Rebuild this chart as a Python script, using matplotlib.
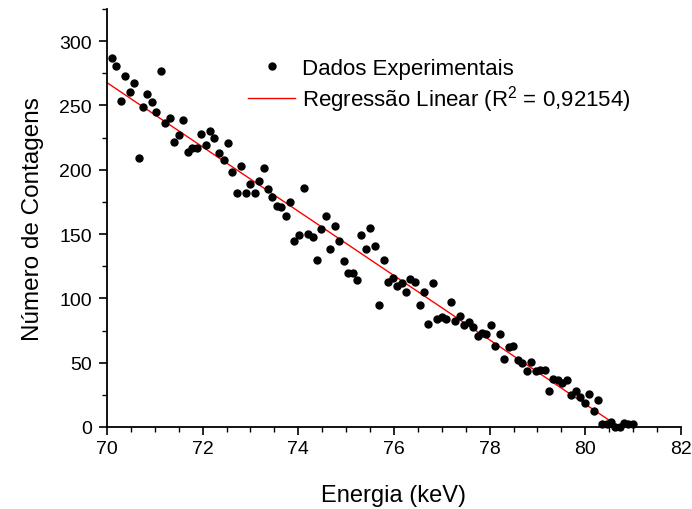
import numpy as np
import matplotlib
matplotlib.use("Agg")
import matplotlib.pyplot as plt
from matplotlib.ticker import MultipleLocator

plt.rcParams['font.family'] = ['Liberation Sans', 'DejaVu Sans']
plt.rcParams['mathtext.fontset'] = 'custom'
plt.rcParams['mathtext.rm'] = 'Liberation Sans'
plt.rcParams['mathtext.it'] = 'Liberation Sans:italic'

energia = [
    70.098, 70.188, 70.286, 70.376, 70.475, 70.565, 70.663, 70.753, 70.843, 70.935,
    71.031, 71.123, 71.219, 71.311, 71.401, 71.499, 71.595, 71.687, 71.777, 71.875,
    71.965, 72.064, 72.153, 72.243, 72.335, 72.440, 72.524, 72.620, 72.712, 72.808,
    72.900, 72.996, 73.088, 73.178, 73.276, 73.366, 73.456, 73.554, 73.644, 73.736,
    73.832, 73.920, 74.021, 74.113, 74.209, 74.301, 74.391, 74.480, 74.572, 74.669,
    74.767, 74.857, 74.949, 75.045, 75.137, 75.227, 75.317, 75.415, 75.505, 75.603,
    75.693, 75.791, 75.879, 75.973, 76.069, 76.161, 76.251, 76.341, 76.446, 76.538,
    76.628, 76.718, 76.816, 76.906, 76.998, 77.094, 77.186, 77.282, 77.374, 77.464,
    77.562, 77.658, 77.750, 77.844, 77.930, 78.029, 78.118, 78.217, 78.306, 78.398,
    78.495, 78.587, 78.677, 78.775, 78.865, 78.963, 79.053, 79.151, 79.241, 79.331,
    79.423, 79.519, 79.611, 79.701, 79.801, 79.889, 79.994, 80.084, 80.176, 80.266,
    80.355, 80.447, 80.537, 80.627, 80.719, 80.809, 80.899, 80.991,
]
contagens = [
    286.7, 280.7, 253.8, 272.7, 260.8, 267.5, 209.0, 248.6, 258.7, 252.8,
    245.0, 276.6, 236.0, 239.9, 221.7, 226.9, 238.8, 213.9, 216.8, 216.8,
    227.9, 219.1, 230.0, 224.8, 212.9, 207.7, 220.7, 197.9, 182.0, 203.0,
    182.0, 189.0, 182.0, 190.9, 201.0, 184.9, 178.9, 171.9, 170.9, 163.9,
    175.1, 144.9, 148.9, 185.9, 150.0, 147.9, 130.0, 153.8, 163.9, 138.1,
    155.9, 144.8, 129.0, 119.9, 119.9, 114.0, 148.9, 138.1, 154.9, 140.9,
    95.0, 130.0, 112.9, 116.0, 109.8, 112.1, 105.1, 115.0, 112.9, 95.0,
    105.1, 80.0, 112.1, 84.1, 85.2, 84.1, 97.1, 82.1, 86.2, 79.0,
    81.3, 77.9, 70.9, 73.4, 72.5, 79.3, 63.2, 72.3, 53.1, 61.9,
    63.2, 52.1, 50.0, 43.3, 50.3, 43.5, 44.3, 44.3, 28.2, 37.3,
    36.5, 34.0, 36.5, 24.9, 28.2, 23.1, 18.4, 25.4, 12.4, 21.2,
    2.0, 2.0, 4.0, 0.0, 0.0, 3.0, 2.0, 2.0,
]

xlim = (70, 82)
ylim = (0, 325)
xticks = [70, 72, 74, 76, 78, 80, 82]
yticks = [0, 50, 100, 150, 200, 250, 300]
r2_text = "0,92154"

x = np.array(energia)
y = np.array(contagens)
slope, intercept = np.polyfit(x, y, 1)

fig = plt.figure(figsize=(6.92, 5.10), dpi=100)
ax = fig.add_axes([0.1546, 0.1608, 0.8294, 0.8196])

ax.plot(x, y, 'o', color='black', ms=5, label='Dados Experimentais', clip_on=False, zorder=3)
xf = np.array([xlim[0], x.max()])
ax.plot(xf, intercept + slope * xf, '-', color='red', lw=1.0,
        label='Regressão Linear (R$^{2}$ = ' + r2_text + ')', zorder=2)

ax.set_xlim(*xlim)
ax.set_ylim(*ylim)
ax.set_xticks(xticks)
ax.set_yticks(yticks)
ax.xaxis.set_minor_locator(MultipleLocator(0.5))
ax.yaxis.set_minor_locator(MultipleLocator(25))
ax.tick_params(which='major', direction='out', length=6, width=1.2, labelsize=14)
ax.tick_params(which='major', axis='y', pad=5)
ax.tick_params(which='minor', direction='out', length=3.5, width=1.0)
for s in ['top', 'right']:
    ax.spines[s].set_visible(False)
for s in ['left', 'bottom']:
    ax.spines[s].set_linewidth(1.3)

ax.set_xlabel('Energia (keV)', fontsize=17, labelpad=19)
ax.set_ylabel('Número de Contagens', fontsize=17.5, labelpad=11)

leg = ax.legend(loc='upper left', bbox_to_anchor=(0.231, 0.905), frameon=False,
                fontsize=16, handlelength=2.1, handletextpad=0.3,
                labelspacing=0.2, borderaxespad=0)

fig.savefig('out.png', dpi=100)
